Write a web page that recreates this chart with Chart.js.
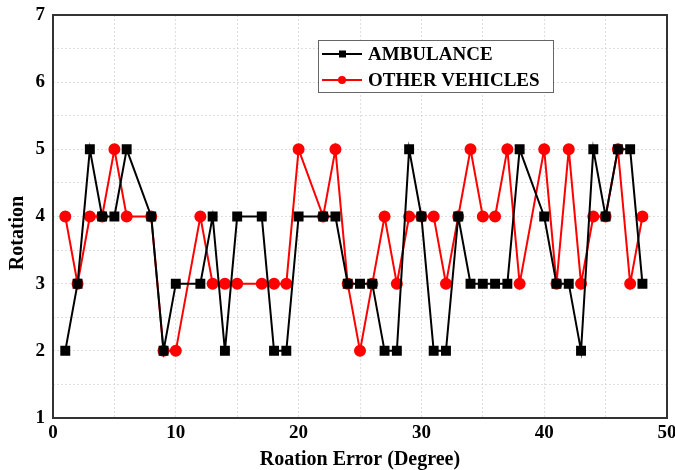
<!DOCTYPE html>
<html lang="en">
<head>
    <meta charset="UTF-8">
    <title>Rotation vs Roation Error</title>
    <script src="https://cdn.jsdelivr.net/npm/chart.js@4.4.0/dist/chart.umd.min.js"></script>
    <style>
        body { margin: 0; background: #fff; }
        #wrap { width: 675px; height: 470px; }
    </style>
</head>
<body>
<div id="wrap"><canvas id="rotChart" width="675" height="470"></canvas></div>
<script>
    // x values (degree) - some degrees have no sample
    const errorDeg = [1, 2, 3, 4, 5, 6, 8, 9, 10, 12, 13, 14, 15, 17, 18, 19, 20, 22, 23, 24, 25, 26,
        27, 28, 29, 30, 31, 32, 33, 34, 35, 36, 37, 38, 40, 41, 42, 43, 44, 45, 46, 47, 48];
    const ambulance = [2, 3, 5, 4, 4, 5, 4, 2, 3, 3, 4, 2, 4, 4, 2, 2, 4, 4, 4, 3, 3, 3,
        2, 2, 5, 4, 2, 2, 4, 3, 3, 3, 3, 5, 4, 3, 3, 2, 5, 4, 5, 5, 3];
    const otherVehicles = [4, 3, 4, 4, 5, 4, 4, 2, 2, 4, 3, 3, 3, 3, 3, 3, 5, 4, 5, 3, 2, 3,
        4, 3, 4, 4, 4, 3, 4, 5, 4, 4, 5, 3, 5, 3, 5, 3, 4, 4, 5, 3, 4];
    const seriesNames = ['AMBULANCE', 'OTHER VEHICLES'];
    const yTitle = 'Rotation';

    const serif = "'Liberation Serif', 'Times New Roman', serif";

    function toPoints(vals) {
        return errorDeg.map((x, i) => ({ x: x, y: vals[i] }));
    }

    // frame round the plot, y title, legend box inside the plot
    const framePlugin = {
        id: 'frame',
        afterDraw(chart) {
            const { ctx, chartArea: a } = chart;
            ctx.save();
            ctx.strokeStyle = '#333';
            ctx.lineWidth = 2;
            ctx.strokeRect(a.left, a.top, a.right - a.left, a.bottom - a.top);

            // y axis title (a bit below the middle, like the original)
            ctx.save();
            ctx.translate(18, 233);
            ctx.rotate(-Math.PI / 2);
            ctx.font = 'bold 20px ' + serif;
            ctx.fillStyle = '#000';
            ctx.textAlign = 'center';
            ctx.textBaseline = 'middle';
            ctx.fillText(yTitle, 0, 0);
            ctx.restore();

            // legend
            const bx = 318, by = 40, bw = 235, bh = 52;
            ctx.fillStyle = '#fff';
            ctx.fillRect(bx, by, bw, bh);
            ctx.strokeStyle = '#666';
            ctx.lineWidth = 1;
            ctx.strokeRect(bx + 0.5, by + 0.5, bw, bh);
            ctx.font = 'bold 19px ' + serif;
            ctx.textBaseline = 'middle';
            chart.data.datasets.forEach((ds, i) => {
                const y = by + 14 + i * 26;
                ctx.strokeStyle = ds.borderColor;
                ctx.lineWidth = 2;
                ctx.beginPath();
                ctx.moveTo(bx + 4, y);
                ctx.lineTo(bx + 44, y);
                ctx.stroke();
                ctx.fillStyle = ds.backgroundColor;
                if (ds.pointStyle === 'rect') {
                    ctx.fillRect(bx + 21, y - 3.5, 7, 7);
                } else {
                    ctx.beginPath();
                    ctx.arc(bx + 24, y, 4, 0, Math.PI * 2);
                    ctx.fill();
                }
                ctx.fillStyle = '#000';
                ctx.fillText(ds.label, bx + 50, y + 1);
            });
            ctx.restore();
        }
    };

    const ctx = document.getElementById('rotChart').getContext('2d');
    new Chart(ctx, {
        type: 'line',
        data: {
            datasets: [
                {
                    label: seriesNames[0],
                    data: toPoints(ambulance),
                    borderColor: '#000',
                    backgroundColor: '#000',
                    borderWidth: 2,
                    pointStyle: 'rect',
                    pointRadius: 5.6,
                    pointHoverRadius: 5.6
                },
                {
                    label: seriesNames[1],
                    data: toPoints(otherVehicles),
                    borderColor: '#ff0000',
                    backgroundColor: '#ff0000',
                    borderWidth: 2,
                    pointStyle: 'circle',
                    pointRadius: 5,
                    pointHoverRadius: 5
                }
            ]
        },
        options: {
            responsive: false,
            animation: false,
            layout: { padding: { left: 4, right: 8, top: 15, bottom: 0 } },
            plugins: {
                legend: { display: false },
                tooltip: { enabled: false }
            },
            scales: {
                x: {
                    type: 'linear',
                    min: 0,
                    max: 50,
                    ticks: {
                        stepSize: 5,
                        padding: 4,
                        color: '#000',
                        font: { family: serif, size: 19, weight: 'bold' },
                        callback: v => (v % 10 === 0 ? v : '')
                    },
                    grid: { color: '#dedede', lineWidth: 1, drawTicks: false },
                    border: { display: false, dash: [2, 2] },
                    title: {
                        display: true,
                        text: 'Roation Error (Degree)',
                        color: '#000',
                        padding: { top: 0, bottom: -2 },
                        font: { family: serif, size: 20, weight: 'bold' }
                    },
                    afterFit(scale) {
                        scale.height = 52;
                        scale.paddingRight = 0;
                        scale.paddingLeft = 0;
                    }
                },
                y: {
                    min: 1,
                    max: 7,
                    ticks: {
                        stepSize: 0.5,
                        padding: 8,
                        color: '#000',
                        font: { family: serif, size: 19, weight: 'bold' },
                        callback: v => (Number.isInteger(v) ? v : '')
                    },
                    grid: { color: '#dedede', lineWidth: 1, drawTicks: false },
                    border: { display: false, dash: [2, 2] },
                    afterFit(scale) {
                        scale.width = 49;
                        scale.paddingTop = 0;
                        scale.paddingBottom = 0;
                    }
                }
            }
        },
        plugins: [framePlugin]
    });
</script>
</body>
</html>
